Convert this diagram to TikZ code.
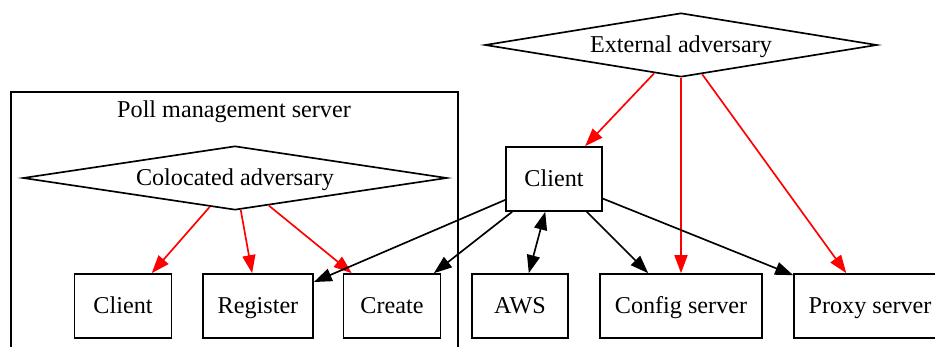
\documentclass[tikz,border=0pt]{standalone}
\usepackage{fontspec}
\setmainfont{Liberation Serif}
\usetikzlibrary{shapes.geometric,arrows.meta}
\begin{document}
\begin{tikzpicture}[x=0.6pt,y=-0.6pt,
  every node/.style={font=\fontsize{14.5}{17}\selectfont,text height=12pt,text depth=2.4pt},
  box/.style={draw,rectangle,line width=1pt,minimum height=38.4pt,inner sep=0pt},
  adv/.style={draw,diamond,line width=1pt,minimum height=38.4pt,inner sep=0pt,shape aspect=6.6},
  gvtip/.tip={Triangle[length=10.8pt,width=7.8pt]},
  edge/.style={line width=1pt,-gvtip},
  attack/.style={edge,red}]
\useasboundingbox (0,0) rectangle (935,347);
\clip (0,0) rectangle (935,347);
\draw [line width=1pt] (11,92) rectangle (458,370);
\node (pmslabel) at (234,110) {Poll management server};
\node [adv,minimum width=254.4pt] (coladv) at (235,178) {Colocated adversary};
\node [box,minimum width=58.2pt] (pclient) at (123,306) {Client};
\node [box,minimum width=66pt] (register) at (258,306) {Register};
\node [box,minimum width=58.2pt] (create) at (392,306) {Create};
\node [adv,minimum width=235.2pt] (extadv) at (681,45) {External adversary};
\node [box,minimum width=57.6pt] (client) at (554,179) {Client};
\node [box,minimum width=57.6pt] (aws) at (520,306) {AWS};
\node [box,minimum width=97.2pt] (config) at (681,306) {Config server};
\node [box,minimum width=91.2pt] (proxy) at (870,306) {Proxy server};
\draw [attack] (coladv) -- (pclient);
\draw [attack] (coladv) -- (register);
\draw [attack] (coladv) -- (create);
\draw [attack] (extadv) -- (client);
\draw [attack] (extadv) -- (config);
\draw [attack] (extadv) -- (proxy);
\draw [edge] (client) -- (register);
\draw [edge] (client) -- (create);
\draw [edge,gvtip-gvtip] (client) -- (aws);
\draw [edge] (client) -- (config);
\draw [edge] (client) -- (proxy);
\end{tikzpicture}
\end{document}
